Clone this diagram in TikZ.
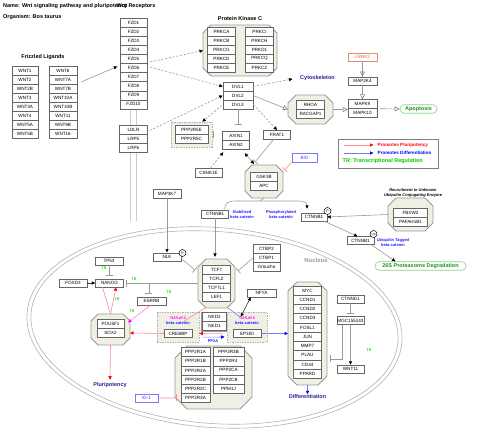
\documentclass[tikz,border=0pt]{standalone}
\usepackage{fontspec}
\setmainfont{Liberation Sans}
\usetikzlibrary{arrows.meta,calc}
\definecolor{octfill}{RGB}{240,239,228}
\definecolor{navy}{RGB}{34,34,150}
\definecolor{lblue}{RGB}{30,30,255}
\definecolor{grn}{RGB}{30,150,30}
\definecolor{grnb}{RGB}{140,210,140}
\definecolor{trg}{RGB}{0,225,0}
\definecolor{trleg}{RGB}{0,200,0}
\definecolor{mag}{RGB}{255,0,255}
\definecolor{salm}{RGB}{230,140,110}
\definecolor{salmt}{RGB}{225,100,70}
\definecolor{bioc}{RGB}{120,120,255}
\definecolor{biot}{RGB}{60,60,255}
\definecolor{redl}{RGB}{255,140,140}
\definecolor{bluel}{RGB}{120,120,255}
\definecolor{pinkl}{RGB}{255,130,200}
\newcommand{\ftBox}{\fontsize{4.6}{5}\selectfont}
\newcommand{\ftTitle}{\bfseries\fontsize{5.5}{6}\selectfont}
\newcommand{\ftLbl}{\bfseries\fontsize{4}{5}\selectfont}
\newcommand{\ftTR}{\bfseries\fontsize{3.6}{4}\selectfont}
\newcommand{\ftBig}{\bfseries\fontsize{5.5}{6}\selectfont}
\newcommand{\octogroup}[6]{%
  \draw[octo] (#2+#6,#3) -- (#4-#6,#3) -- (#4,#3+#6) -- (#4,#5-#6) -- (#4-#6,#5) -- (#2+#6,#5) -- (#2,#5-#6) -- (#2,#3+#6) -- cycle;
  \node[inner sep=0pt, outer sep=0pt, minimum width={(#4-#2)*1pt}, minimum height={(#5-#3)*1pt}] (#1) at ({(#2+#4)/2},{(#3+#5)/2}) {};}
\begin{document}
\begin{tikzpicture}[x=1pt,y=-1pt,
  box/.style={draw=black!60, fill=white, line width=0.45pt, inner sep=0pt, minimum height=9pt, font=\ftBox, text=black},
  octo/.style={draw=black!40, fill=octfill, line width=0.8pt},
  dgrp/.style={draw=black!30, fill=octfill, dash pattern=on 1.5pt off 1pt, line width=0.6pt, inner sep=0pt},
  conn/.style={draw=black!40, line width=0.6pt},
  arr/.style={conn, -{Triangle[length=3.5pt,width=3.2pt,color=black]}},
  darr/.style={arr, dash pattern=on 2.2pt off 1.6pt},
  oarr/.style={conn, -{Triangle[open,length=5pt,width=5pt,color=black!50]}},
  inh/.style={conn, -{Bar[width=7pt,line width=0.7pt]}},
  inhr/.style={draw=redl, line width=0.6pt, -{Bar[width=7pt,line width=0.7pt]}},
  rarr/.style={draw=redl, line width=0.6pt, -{Triangle[length=3.5pt,width=3.2pt,color=red]}},
  rline/.style={draw=redl, line width=0.6pt},
  parr/.style={draw=pinkl, line width=0.6pt, -{Triangle[length=3.5pt,width=3.2pt,color=mag]}},
  barr/.style={draw=bluel, line width=0.6pt, -{Triangle[length=3.5pt,width=3.2pt,color=blue]}},
  bline/.style={draw=bluel, line width=0.6pt},
  karr/.style={draw=black!80, line width=0.6pt, -{Triangle[length=3.5pt,width=3.2pt,color=black]}},
  pcirc/.style={circle, draw=black, fill=white, line width=0.5pt, inner sep=0pt, minimum size=7pt, font=\fontsize{3.6}{4}\selectfont},
  lbl/.style={inner sep=0.5pt, align=center},
  nucl/.style={draw=black!30, line width=0.6pt},
  memb/.style={draw=black!20, line width=0.6pt},
  pill/.style={fill=white, rounded corners=4pt, inner sep=0pt, minimum height=8.5pt, font=\ftBig, text=grn, draw=grnb, line width=0.6pt},
  trl/.style={font=\ftTR, text=trg, inner sep=0pt}
]
\useasboundingbox (0,0) rectangle (480,443);

% nucleus
\draw[nucl, rotate around={-4.4:(214.5,327.5)}] (214.5,327.5) ellipse [x radius=188pt, y radius=100pt];
\draw[nucl, rotate around={-4.4:(214.5,327.5)}] (214.5,327.5) ellipse [x radius=184pt, y radius=96pt];
\node[font=\bfseries\fontsize{6}{7}\selectfont, text=black!40] (nucleus) at (316,260) {Nucleus};

% membrane lines
\draw[memb] (130,108) -- (130,221);
\draw[memb] (136,108) -- (136,221);

% titles
\node[anchor=west, font=\ftTitle, inner sep=0pt] (title) at (3,6) {Name: Wnt signaling pathway and pluripotency};
\node[anchor=west, font=\ftTitle, inner sep=0pt] (organism) at (3,17) {Organism: Bos taurus};
\node[font=\ftTitle, inner sep=0pt] (wntrec) at (136,6) {Wnt Receptors};
\node[font=\ftTitle, inner sep=0pt] (flig) at (43,57) {Frizzled Ligands};
\node[font=\ftTitle, inner sep=0pt] (pkclab) at (240,19) {Protein Kinase C};

% ligands
\foreach \t [count=\i from 0] in {WNT1,WNT2,WNT2B,WNT3,WNT3A,WNT4,WNT5A,WNT5B}
  \node[box, minimum width=26pt] (L\t) at (25,70.5+9*\i) {\t};
\foreach \t [count=\i from 0] in {WNT6,WNT7A,WNT7B,WNT10A,WNT10B,WNT11,WNT9B,WNT16}
  \node[box, minimum width=28pt] (L\t) at (63,70.5+9*\i) {\t};

% receptors
\foreach \t [count=\i from 0] in {FZD1,FZD2,FZD3,FZD4,FZD5,FZD6,FZD7,FZD8,FZD9,FZD10}
  \node[box, minimum width=27pt, minimum height=9.1pt] (\t) at (133.5,22.5+9.1*\i) {\t};
\foreach \t [count=\i from 0] in {LDLR,LRP5,LRP6}
  \node[box, minimum width=28pt] (\t) at (133.5,129.5+9*\i) {\t};

% PKC
\octogroup{pkc}{203}{25}{277}{76}{8}
\foreach \t [count=\i from 0] in {PRKCA,PRKCB,PRKCG,PRKCD,PRKCE}
  \node[box, minimum width=28pt] (\t) at (221.5,31.5+9*\i) {\t};
\foreach \t [count=\i from 0] in {PRKCI,PRKCH,PRKD1,PRKCQ,PRKCZ}
  \node[box, minimum width=28pt] (\t) at (259.5,31.5+9*\i) {\t};

% DVL
\foreach \t [count=\i from 0] in {DVL1,DVL2,DVL3}
  \node[box, minimum width=30pt] (\t) at (238,86.5+9*\i) {\t};

\node[font=\ftBig, text=navy, inner sep=0.5pt] (cyto) at (317.5,78) {Cytoskeleton};

% RHOA group
\octogroup{rhoagrp}{288}{95}{333}{124}{8}
\node[box, minimum width=28pt] (RHOA) at (310.5,105) {RHOA};
\node[box, minimum width=28pt] (RACGAP1) at (310.5,114) {RACGAP1};

% MAPK
\node[box, draw=salm, text=salmt, minimum width=29pt, minimum height=8.5pt] (LRRK2) at (362.5,57) {LRRK2};
\node[box, minimum width=29pt, minimum height=8.5pt] (MAP2K4) at (362.5,81) {MAP2K4};
\node[box, minimum width=29pt] (MAPK9) at (362.5,104) {MAPK9};
\node[box, minimum width=29pt] (MAPK10) at (362.5,113) {MAPK10};
\node[pill, minimum width=37pt] (apop) at (418.5,109) {Apoptosis};

% legend
\node[draw=black!50, line width=0.6pt, minimum width=100pt, minimum height=29pt, inner sep=0pt] (legend) at (388,153.7) {};
\node[anchor=west, font=\bfseries\fontsize{4.6}{5}\selectfont, text=red, inner sep=0pt] (lg1) at (377.5,145) {Promotes Pluripotency};
\node[anchor=west, font=\bfseries\fontsize{4.6}{5}\selectfont, text=blue, inner sep=0pt] (lg2) at (377.5,153) {Promotes Differentiation};
\node[anchor=west, font=\ftBig, text=trleg, inner sep=0pt] (lg3) at (342.5,161.5) {TR: Transcriptional Regulation};
\draw[rarr] ($(lg1.west)+(-34,0)$) -- ($(lg1.west)+(-4,0)$);
\draw[barr] ($(lg2.west)+(-34,0)$) -- ($(lg2.west)+(-4,0)$);

% PPP2R5 group
\node[dgrp, minimum width=41pt, minimum height=25pt] (ppgrp) at (191.5,134.5) {};
\node[box, minimum width=33pt] (PPP2R5E) at (191.5,130) {PPP2R5E};
\node[box, minimum width=33pt] (PPP2R5C) at (191.5,139) {PPP2R5C};

\node[box, minimum width=27pt] (AXIN1) at (236,135.5) {AXIN1};
\node[box, minimum width=27pt] (AXIN2) at (236,144.5) {AXIN2};
\node[box, minimum width=27pt, minimum height=8.5pt] (FRAT1) at (277,134.5) {FRAT1};
\node[box, minimum width=27pt, minimum height=8.5pt] (CSNK1E) at (208.5,172.5) {CSNK1E};

% GSK3B group
\octogroup{gskgrp}{245}{165}{283}{198}{7}
\node[box, minimum width=27pt] (GSK3B) at (264,176.5) {GSK3B};
\node[box, minimum width=27pt] (APC) at (264,185.5) {APC};
\node[box, draw=bioc, text=biot, minimum width=25pt] (BIO) at (304.5,157.5) {BIO};

\node[box, minimum width=28pt] (MAP3K7) at (167,193.5) {MAP3K7};

% beta-catenin
\node[box, minimum width=27pt, minimum height=8.5pt] (ctnS) at (215,214) {CTNNB1};
\node[lbl, font=\ftLbl, text=lblue] (stablab) at (242,214.5) {Stabilized\\beta-catenin};
\node[lbl, font=\ftLbl, text=lblue] (phoslab) at (281,214.5) {Phosphorylated\\beta-catenin};
\node[box, minimum width=26pt, minimum height=8pt] (ctnP) at (314,217) {CTNNB1};
\node[pcirc] (ctnPp) at (327.5,211) {P};

\octogroup{fbxgrp}{388}{198}{433}{231}{8}
\node[box, minimum width=34pt] (FBXW2) at (410.5,212.5) {FBXW2};
\node[box, minimum width=34pt] (PAFAH1B1) at (410.5,221.5) {PAFAH1B1};
\node[lbl, font=\bfseries\itshape\fontsize{4}{5}\selectfont] (recruit) at (413,193) {Recruitment to Unknown\\Ubiquitin Conjugating Enzyme};

\node[box, minimum width=27pt, minimum height=8pt] (ctnU) at (360.5,240.5) {CTNNB1};
\node[pcirc, font=\fontsize{3}{3.5}\selectfont] (ctnUb) at (373.5,234) {Ub};
\node[lbl, font=\ftLbl, text=lblue] (ubilab) at (393,242.5) {Ubiquitin Tagged\\beta-catenin};
\node[pill, minimum width=91pt] (prot) at (420.5,266) {26S Proteasome Degradation};

% NLK / TCF
\node[box, minimum width=28pt, minimum height=8.5pt] (NLK) at (167,257) {NLK};
\node[pcirc] (NLKp) at (182.5,253) {P};
\octogroup{tcfgrp}{198}{259}{235}{308}{8}
\foreach \t [count=\i from 0] in {TCF7,TCFL2,TCF7L1,LEF1}
  \node[box, minimum width=28pt] (\t) at (216.5,270+9*\i) {\t};
\foreach \t [count=\i from 0] in {CTBP2,CTBP1,Groucho}
  \node[box, minimum width=27pt] (\t) at (266.5,249+9*\i) {\t};

% pluripotency side
\node[box, minimum width=28pt, minimum height=8pt] (TP53) at (109,261) {TP53};
\node[box, minimum width=28pt, minimum height=8pt] (NANOG) at (109.5,283) {NANOG};
\node[box, minimum width=28pt, minimum height=8pt] (FOXD3) at (73,283) {FOXD3};
\node[box, minimum width=29pt, minimum height=8pt] (ESRRB) at (151.5,301) {ESRRB};
\octogroup{pougrp}{91}{314}{130}{345}{7}
\node[box, minimum width=27pt] (POU5F1) at (110.5,324) {POU5F1};
\node[box, minimum width=27pt] (SOX2) at (110.5,333) {SOX2};
\node[font=\ftBig, text=navy, inner sep=0.5pt] (pluri) at (110,385) {Pluripotency};
\node[box, draw=bioc, text=biot, minimum width=23pt, minimum height=8pt] (ID1) at (146.5,398) {ID-1};

% CREBBP / NKD / EP300
\node[dgrp, minimum width=42pt, minimum height=30pt] (crebgrp) at (178,327) {};
\node[font=\ftLbl, text=mag, inner sep=0pt] (creb1) at (178,318.5) {Tcf/Lef-1};
\node[font=\ftLbl, text=lblue, inner sep=0pt] (creb2) at (178,323.5) {beta-catenin};
\node[box, minimum width=28pt, minimum height=8pt] (CREBBP) at (178,333.5) {CREBBP};
\node[draw=black!40, line width=0.4pt, minimum width=27pt, minimum height=19pt, inner sep=0pt] (nkdgrp) at (214.5,321.5) {};
\node[box, minimum width=24pt] (NKD2) at (214.5,317) {NKD2};
\node[box, minimum width=24pt] (NKD1) at (214.5,326) {NKD1};
\node[font=\ftLbl, text=lblue, inner sep=0pt] (pp2alab) at (213,341.5) {PP2A};
\node[dgrp, minimum width=40pt, minimum height=30pt] (ep300grp) at (247,327) {};
\node[font=\ftLbl, text=mag, inner sep=0pt] (ep1) at (247,318.5) {Tcf/Lef-1};
\node[font=\ftLbl, text=lblue, inner sep=0pt] (ep2) at (247,323.5) {beta-catenin};
\node[box, minimum width=28pt, minimum height=8pt] (EP300) at (247,333.5) {EP300};
\node[box, minimum width=29pt, minimum height=8pt] (NFYA) at (261.5,293) {NFYA};

% targets
\octogroup{tgtgrp}{288}{282}{327}{385}{9}
\foreach \t [count=\i from 0] in {MYC,CCND1,CCND2,CCND3,FOSL1,JUN,MMP7,PLAU,CD44,PPARD}
  \node[box, minimum width=28pt, minimum height=9.25pt] (\t) at (307.5,290.5+9.25*\i) {\t};
\node[font=\ftBig, text=navy, inner sep=0.5pt] (diff) at (307.5,397) {Differentiation};
\node[box, minimum width=27pt, minimum height=8pt] (CTNND1) at (350.5,299) {CTNND1};
\node[box, minimum width=27pt, minimum height=8pt] (MGC) at (350.5,320.5) {MGC155143};
\node[box, minimum width=27pt, minimum height=8pt] (nWNT11) at (350.5,369) {WNT11};

% PP2A complex
\octogroup{ppgrp2}{175}{346}{252}{409}{12}
\foreach \t [count=\i from 0] in {PPP2R1A,PPP2R1B,PPP2R2A,PPP2R2B,PPP2R2C,PPP2R3A}
  \node[box, minimum width=29pt, minimum height=9.2pt] (\t) at (195.5,352+9.2*\i) {\t};
\foreach \t [count=\i from 0] in {PPP2R3B,PPP2R4,PPP2CA,PPP2CB,PPM1J}
  \node[box, minimum width=31pt, minimum height=9.2pt] (\t) at (228.5,352+9.2*\i) {\t};

% TR labels
\node[trl] (tr1) at (104,268) {TR};
\node[trl] (tr2) at (134,279) {TR};
\node[trl] (tr3) at (169,292.5) {TR};
\node[trl] (tr4) at (117,299) {TR};
\node[trl] (tr5) at (132,311.5) {TR};
\node[trl] (tr6) at (369,350) {TR};

% ---------- connectors ----------
\coordinate (ligout) at (81,82);
\draw[conn, -{Triangle[length=3.5pt,width=3.2pt,color=black]}] (ligout) -- ($(FZD6.west)+(-2.5,-1.5)$);
\draw[darr] ($(FZD5.east)+(3,3)$) -- (pkc.west);
\draw[darr] ($(FZD6.east)+(3,-1)$) -- (DVL1.west);
\draw[darr] ($(LDLR.east)+(2,1)$) -- (DVL2.west);
\draw[darr] (DVL1.east) -- ($(cyto.west)+(-7,1)$);
\draw[oarr] (DVL2.east) -- (rhoagrp.west);
\draw[darr] (DVL3.east) -- (FRAT1.north);
\draw[darr] ($(DVL3.west)+(-1,1)$) -- ($(ppgrp.north east)+(-10,0)$);
\draw[inh, shorten >=6pt] (DVL3.south) -- (DVL3.south |- AXIN1.north);
\draw[inh, shorten >=9pt] (ppgrp.east) -- (ppgrp.east -| AXIN1.west);
\draw[conn] (LRRK2.south) -- (MAP2K4.north);
\draw[oarr] (LRRK2.south) -- (MAP2K4.north);
\draw[oarr] (MAP2K4.south) -- (MAPK9.north);
\draw[oarr] (rhoagrp.east) -- (rhoagrp.east -| MAPK9.west);
\draw[oarr] ($(MAPK9.south east)+(3,0)$) -- (apop.west);
\draw[darr] ($(CSNK1E.north)+(2,0)$) -- ($(AXIN2.south west)+(1,3)$);
\draw[conn, {Triangle[length=3.5pt,width=3.2pt,color=black]}-{Triangle[length=3.5pt,width=3.2pt,color=black]}] ($(AXIN2.south east)+(-5,4)$) -- ($(gskgrp.north west)+(9,-1)$);
\draw[inh] ($(FRAT1.south)+(-3,0)$) -- ($(gskgrp.north west)+(10,-3)$);
\draw[inhr] (BIO.south west) -- ($(gskgrp.north east)+(1.5,5)$);
\draw[arr] ($(ctnS.north east)+(-4,0)$) .. controls (224.5,203) and (228,201) .. (236,201) -- (298,201) .. controls (305,201) and (307,203) .. ($(ctnP.north)+(-7,-4)$);
\draw[conn] (gskgrp.south) -- ($(gskgrp.south)+(-4,3)$);
\draw[arr] (fbxgrp.west) -- (ctnP.east);
\draw[arr] ($(ctnP.south east)+(-3,0)$) -- ($(ctnU.north)+(-3,0)$);
\draw[arr] ($(ctnU.south east)+(-3,0)$) -- ($(prot.north)+(-25,0)$);
\draw[arr] (MAP3K7.south) -- (NLK.north);
\draw[inh] ($(NLK.east)+(0,1.5)$) -- ($(tcfgrp.north west)+(-3,11)$);
\draw[arr, shorten >=2pt] (ctnS.south) -- (ctnS.south |- tcfgrp.north);
\draw[inh] (CTBP1.west) -- ($(tcfgrp.north east)+(3,12)$);
\draw[inh, shorten >=2pt] (tcfgrp.west) -- (tcfgrp.west -| NANOG.east);
\coordinate (br) at ($(tcfgrp.west)!0.66!(NANOG.east)$);
\draw[inh, shorten >=3pt] (br) -- (br |- ESRRB.north);
\draw[inh, shorten >=3pt] (TP53.south) -- (TP53.south |- NANOG.north);
\draw[karr] (FOXD3.east) -- (NANOG.west);
\draw[rarr] (pougrp.north) -- ($(NANOG.south)+(6.5,0)$);
\draw[rline] ($(NANOG.south)+(-7,0)$) -- (pougrp.north);
\draw[parr] ($(ESRRB.south)+(-1,0)$) -- ($(pougrp.east)+(-2,-7)$);
\draw[rarr] (CREBBP.west) -- (SOX2.east -| pougrp.east);
\draw[rarr, shorten >=2pt] (pougrp.south) -- (pluri.north);
\draw[inhr, shorten >=4pt] (ID1.east) -- (PPP2R3A.west);
\draw[rline] ($(tcfgrp.south west)+(7,0)$) -- ($(crebgrp.north)+(6,9.5)$);
\draw[bline] ($(tcfgrp.south east)+(-7,0)$) -- ($(ep300grp.north west)+(13,5)$);
\draw[draw=black!80, line width=0.6pt, {Triangle[length=3.5pt,width=3.2pt,color=black]}-{Triangle[length=3.5pt,width=3.2pt,color=black]}] ($(NFYA.south west)+(4,0)$) -- ($(ep300grp.north west)+(14,5)$);
\draw[rarr] ($(nkdgrp.south east)+(-6,2.5)$) -- ($(crebgrp.east)+(0,6.5)$);
\draw[barr] ($(nkdgrp.south west)+(2,6)$) -- ($(ep300grp.west)+(-2,10)$);
\draw[barr] (EP300.east) -- (EP300.east -| tgtgrp.west);
\draw[barr] (tgtgrp.south) -- (diff.north);
\draw[inh, shorten >=3pt] (CTNND1.south) -- (MGC.north);
\draw[arr] (MGC.south) -- (nWNT11.north);
\draw[inh] ($(MGC.south west)+(6,0)$) |- ($(tgtgrp.east)+(3,25.5)$);
\end{tikzpicture}
\end{document}
